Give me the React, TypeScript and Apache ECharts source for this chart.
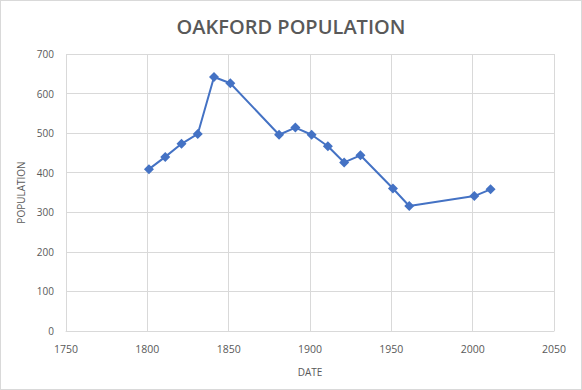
import React, { useEffect, useRef } from "react";
import * as echarts from "echarts";

const years = [1801, 1811, 1821, 1831, 1841, 1851, 1881, 1891, 1901, 1911, 1921, 1931, 1951, 1961, 2001, 2011];
const population = [409, 440, 473, 498, 642, 626, 496, 514, 496, 467, 426, 444, 360, 316, 341, 358];
const titleText = "OAKFORD POPULATION";
const xName = "DATE";
const yName = "POPULATION";

export default function App() {
  const ref = useRef<HTMLDivElement>(null);
  useEffect(() => {
    if (!ref.current) return;
    const chart = echarts.init(ref.current, null, { renderer: "svg" });
    const gray = "#595959";
    chart.setOption({
      animation: false,
      backgroundColor: "#ffffff",
      title: {
        text: titleText,
        left: "center",
        top: 10,
        textStyle: { fontFamily: "Open Sans", fontSize: 20, fontWeight: 600, color: gray },
      },
      grid: { left: 65, right: 27, top: 53, bottom: 58 },
      xAxis: {
        type: "value",
        min: 1750,
        max: 2050,
        interval: 50,
        name: xName,
        nameLocation: "middle",
        nameGap: 36,
        nameTextStyle: { fontFamily: "Open Sans", fontSize: 10, color: gray },
        axisLine: { show: true, lineStyle: { color: "#d9d9d9" } },
        axisTick: { show: false },
        axisLabel: {
          fontFamily: "Open Sans",
          fontSize: 10.5,
          color: gray,
          margin: 12,
          formatter: (v: number) => String(v),
        },
        splitLine: { show: true, lineStyle: { color: "#d9d9d9" } },
      },
      yAxis: {
        type: "value",
        min: 0,
        max: 700,
        interval: 100,
        name: yName,
        nameLocation: "middle",
        nameGap: 37,
        nameRotate: 90,
        nameTextStyle: { fontFamily: "Open Sans", fontSize: 10, color: gray },
        axisLine: { show: false },
        axisTick: { show: false },
        axisLabel: { fontFamily: "Open Sans", fontSize: 10, color: gray, margin: 12 },
        splitLine: { show: true, lineStyle: { color: "#d9d9d9" } },
      },
      series: [
        {
          type: "line",
          data: years.map((y, i) => [y, population[i]]),
          symbol: "diamond",
          symbolSize: 10,
          lineStyle: { color: "#4472C4", width: 2 },
          itemStyle: { color: "#4472C4" },
        },
      ],
    });
    return () => chart.dispose();
  }, []);
  return (
    <div
      ref={ref}
      style={{
        position: "fixed",
        left: 0,
        top: 0,
        width: 582,
        height: 390,
        boxSizing: "border-box",
        border: "1px solid #d9d9d9",
        background: "#fff",
      }}
    />
  );
}
